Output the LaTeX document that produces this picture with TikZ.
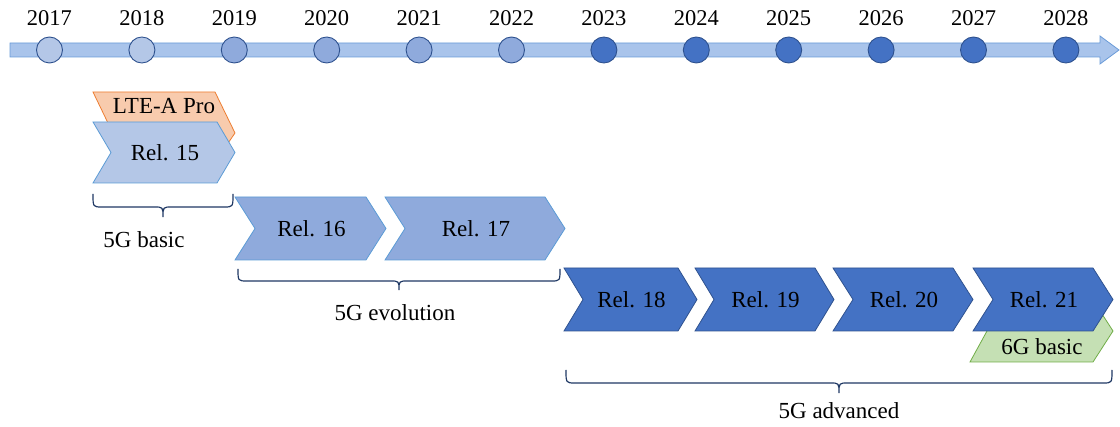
\documentclass[tikz,border=0pt]{standalone}
\usepackage{fontspec}
\setmainfont{Liberation Serif}
\begin{document}
\definecolor{barfill}{HTML}{A9C4EB}
\definecolor{baredge}{HTML}{6A9BD8}
\definecolor{paleblue}{HTML}{B4C7E7}
\definecolor{midblue}{HTML}{8FAADC}
\definecolor{deepblue}{HTML}{4472C4}
\definecolor{ringedge}{HTML}{2F528F}
\definecolor{lightedge}{HTML}{5B9BD5}
\definecolor{ltefill}{HTML}{F8CBAD}
\definecolor{lteedge}{HTML}{ED7D31}
\definecolor{sixgfill}{HTML}{C5E0B4}
\definecolor{sixgedge}{HTML}{70AD47}
\definecolor{bracecol}{HTML}{1F3864}
% chevron: name, style, left x, right x, top y, bottom y, point depth, text
\newcommand\relchev[8]{%
  \draw[#2] (#3,#5) -- ({#4-#7},#5) -- (#4,{(#5+#6)/2}) -- ({#4-#7},#6)
    -- (#3,#6) -- ({#3+#7},{(#5+#6)/2}) -- cycle;
  \node[lbl] (#1) at ({(#3+#4)/2+1},{(#5+#6)/2}) {#8};}
% curly brace: left x, right x, end y, line y, tip y
\newcommand\spanbrace[5]{%
  \draw[bracestyle] (#1,#3) .. controls (#1,#4) .. ({#1+9},#4)
    -- ({(#1+#2)/2-9},#4) .. controls ({(#1+#2)/2},#4) .. ({(#1+#2)/2},#5)
    .. controls ({(#1+#2)/2},#4) .. ({(#1+#2)/2+9},#4)
    -- ({#2-9},#4) .. controls (#2,#4) .. (#2,#3);}
\begin{tikzpicture}[x=1pt,y=-1pt,
  lbl/.style={inner sep=0pt,font=\fontsize{23}{27}\selectfont},
  yearlbl/.style={inner sep=0pt,font=\fontsize{22.5}{27}\selectfont},
  yearball/.style={circle,draw=ringedge,line width=0.9pt,minimum size=26pt,inner sep=0pt},
  relA/.style={fill=paleblue,draw=lightedge,line width=0.8pt},
  relB/.style={fill=midblue,draw=lightedge,line width=0.8pt},
  relC/.style={fill=deepblue,draw=ringedge,line width=0.8pt},
  ltestyle/.style={fill=ltefill,draw=lteedge,line width=0.8pt},
  sixgstyle/.style={fill=sixgfill,draw=sixgedge,line width=0.8pt},
  bracestyle/.style={draw=bracecol,line width=1.2pt}]
\useasboundingbox (0,0) rectangle (1120,427);

% timeline arrow
\draw[fill=barfill,draw=baredge,line width=0.8pt]
  (10,43) -- (1100,43) -- (1100,36) -- (1119,50) -- (1100,64) -- (1100,57) -- (10,57) -- cycle;

% years and their markers
\foreach \yr [count=\i from 0] in {2017,...,2028}{
  \pgfmathsetmacro\px{49.5+92.4*\i}
  \ifnum\i<2 \def\ballfill{paleblue}\else\ifnum\i<6 \def\ballfill{midblue}\else\def\ballfill{deepblue}\fi\fi
  \node[yearball,fill=\ballfill] (y\yr) at (\px,50) {};
  \node[yearlbl] (t\yr) at (\px,18) {\yr};
}

% LTE-A Pro tab, its lower part tucked behind Rel. 15
\draw[ltestyle] (93,92) -- (215,92) -- (235,133) -- (222,152) -- (122,152) -- cycle;
\node[lbl] (lte) at (164,106) {LTE-A Pro};

% releases
\relchev{r15}{relA}{93}{235}{122}{183}{18}{Rel. 15}
\relchev{r16}{relB}{235}{386}{197}{260}{20}{Rel. 16}
\relchev{r17}{relB}{385}{565}{197}{260}{20}{Rel. 17}
\relchev{r18}{relC}{564}{697}{268}{331}{19}{Rel. 18}
\relchev{r19}{relC}{695}{834}{268}{331}{19}{Rel. 19}
\relchev{r20}{relC}{833}{973}{268}{331}{20}{Rel. 20}

% 6G basic tab, its upper part tucked behind Rel. 21
\draw[sixgstyle] (970,362) -- (1093,362) -- (1113,331) -- (1093,300) -- (1004,300) -- cycle;
\node[lbl] (sixg) at (1042,347) {6G basic};
\relchev{r21}{relC}{973}{1113}{268}{331}{20}{Rel. 21}

% phases
\spanbrace{93}{233}{194}{207}{217}
\node[lbl] (basic) at (144,240) {5G basic};
\spanbrace{238}{560}{269}{281}{290}
\node[lbl] (evol) at (395,313) {5G evolution};
\spanbrace{566}{1112}{370}{383}{393}
\node[lbl] (adv) at (839,411) {5G advanced};
\end{tikzpicture}
\end{document}
